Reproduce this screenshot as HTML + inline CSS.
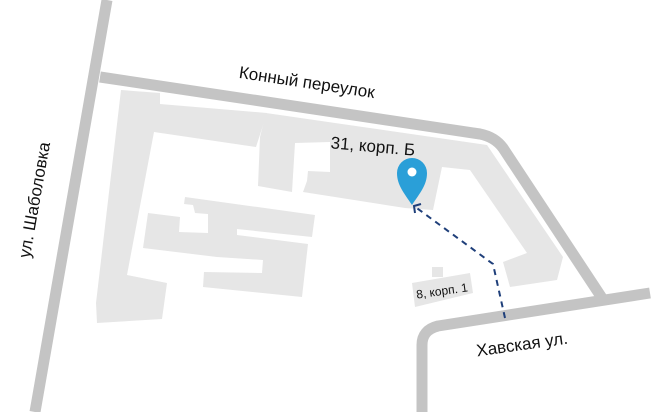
<!DOCTYPE html>
<html><head><meta charset="utf-8"><style>html,body{margin:0;padding:0;background:#fff}svg{display:block}</style></head><body>
<svg width="659" height="412" viewBox="0 0 659 412" xmlns="http://www.w3.org/2000/svg" font-family="'Liberation Sans', sans-serif">
<g fill="#e6e6e6">
<polygon points="121,90 160,93 160,104 267,113 256,147 154,132 127,275 167,283 162,319 97,323 96,303"/>
<polygon points="266,113 487,145 563,257 557,280 510,287 503,262 527,253 470,170 442,167 433,210 405,208 303,192 307,181 308,171 330,172 330,142 295,143 292,192 258,186 260,137"/>
<polygon points="185,197 315,215 312,237 237,229 237,235 308,244 302,297 203,287 204,272 262,273 263,260 217,257 143,248 148,213 180,217 179,232 208,233 208,214 195,213 193,205 184,204"/>
<polygon points="412,283 470,273 473,293 415,307"/>
<rect x="432" y="267" width="11" height="10"/>
</g>
<g fill="none" stroke="#c4c4c4" stroke-width="11" stroke-linejoin="round">
<line x1="107" y1="0" x2="35" y2="412"/>
<path d="M100,77 L480,134 Q495,137 503,148 L602,298"/>
<path d="M650,293 L438,326 Q422,330 422,345 L422,412"/>
</g>
<path d="M505,318 L493,264 L414,206" fill="none" stroke="#1f3f7a" stroke-width="2" stroke-dasharray="6,5"/>
<path d="M421,204 L414,206 L415,213" fill="none" stroke="#1f3f7a" stroke-width="2"/>
<path d="M412,205 C404,193 397,185 397,173 A15,15 0 0 1 427,173 C427,185 420,193 412,205 Z" fill="#2a9fd8"/>
<circle cx="412" cy="172" r="4.5" fill="#fff"/>
<g fill="#111">
<text x="307" y="88" font-size="17" text-anchor="middle" transform="rotate(8.5 307 82)">Конный переулок</text>
<text x="373" y="152" font-size="17" text-anchor="middle" transform="rotate(5 373 146)">31, корп. Б</text>
<text x="35" y="205" font-size="17" text-anchor="middle" transform="rotate(-80 35 200)">ул. Шаболовка</text>
<text x="522" y="350" font-size="17" text-anchor="middle" transform="rotate(-8 522 344)">Хавская ул.</text>
<text x="442" y="295" font-size="12" text-anchor="middle" transform="rotate(-8 442 291)">8, корп. 1</text>
</g>
</svg>
</body></html>
